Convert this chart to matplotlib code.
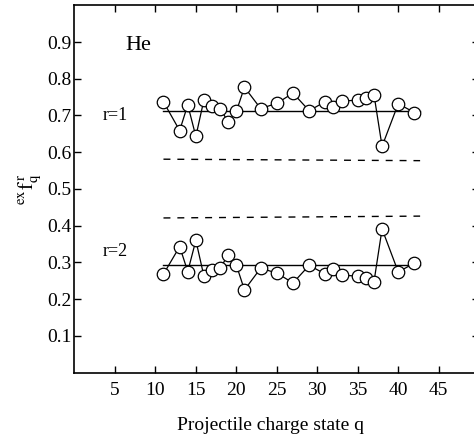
import matplotlib
matplotlib.use("Agg")
import matplotlib.pyplot as plt

plt.rcParams["font.family"] = ["Liberation Serif", "DejaVu Serif"]
plt.rcParams["mathtext.fontset"] = "stix"

# projectile charge states
q = [11, 13, 14, 15, 16, 17, 18, 19, 20, 21, 23, 25, 27, 29, 31, 32, 33,
     35, 36, 37, 38, 40, 42]
# r = 1 fractions
f_r1 = [0.737, 0.659, 0.729, 0.643, 0.743, 0.727, 0.718, 0.683, 0.711,
        0.777, 0.719, 0.733, 0.761, 0.713, 0.738, 0.723, 0.739, 0.742,
        0.747, 0.757, 0.616, 0.732, 0.708]
# r = 2 fractions
f_r2 = [0.268, 0.343, 0.275, 0.360, 0.262, 0.278, 0.284, 0.321, 0.293,
        0.225, 0.284, 0.271, 0.244, 0.292, 0.268, 0.283, 0.266, 0.262,
        0.257, 0.247, 0.391, 0.274, 0.298]

# reference lines (q range and levels)
line_q = [11, 42.7]
mean_r1 = [0.711, 0.711]
mean_r2 = [0.293, 0.293]
dash_upper = [0.581, 0.577]
dash_lower = [0.421, 0.426]

xticks = [5, 10, 15, 20, 25, 30, 35, 40, 45]
yticks = [0.1, 0.2, 0.3, 0.4, 0.5, 0.6, 0.7, 0.8, 0.9]

fig = plt.figure(figsize=(4.74, 4.43), dpi=100)
ax = fig.add_axes([0.157, 0.159, 0.854, 0.829])

ax.plot(line_q, mean_r1, color="black", lw=1.0)
ax.plot(line_q, mean_r2, color="black", lw=1.0)
ax.plot(line_q, dash_upper, color="black", lw=1.0, ls=(0, (5, 5)))
ax.plot(line_q, dash_lower, color="black", lw=1.0, ls=(0, (5, 5)))

for vals in (f_r1, f_r2):
    ax.plot(q, vals, color="black", lw=0.9, marker="o", ms=9,
            mfc="white", mec="black", mew=0.9)

ax.set_xlim(0, 50)
ax.set_ylim(0, 1.0)
ax.set_xticks(xticks)
ax.set_yticks(yticks)
ax.set_xticklabels([str(t) for t in xticks])
ax.set_yticklabels([f"{t:.1f}" for t in yticks])
ax.tick_params(direction="in", length=5, width=1, labelsize=14,
               top=True, right=True)
ax.tick_params(axis="y", pad=2)
ax.tick_params(axis="x", pad=7)
for sp in ax.spines.values():
    sp.set_linewidth(1.2)

ax.text(0.125, 0.89, "He", transform=ax.transAxes, fontsize=16,
        va="center", ha="left")
ax.text(0.07, 0.70, "r=1", transform=ax.transAxes, fontsize=13,
        va="center", ha="left")
ax.text(0.07, 0.33, "r=2", transform=ax.transAxes, fontsize=13,
        va="center", ha="left")

ax.set_ylabel(r"${}^{\mathrm{ex}}\mathrm{f}_{\mathrm{q}}^{\,\mathrm{r}}$",
              fontsize=15, labelpad=3)
fig.text(0.57, 0.04, "Projectile charge state q", fontsize=14,
         ha="center", va="center")

fig.savefig("out.png", dpi=100)
